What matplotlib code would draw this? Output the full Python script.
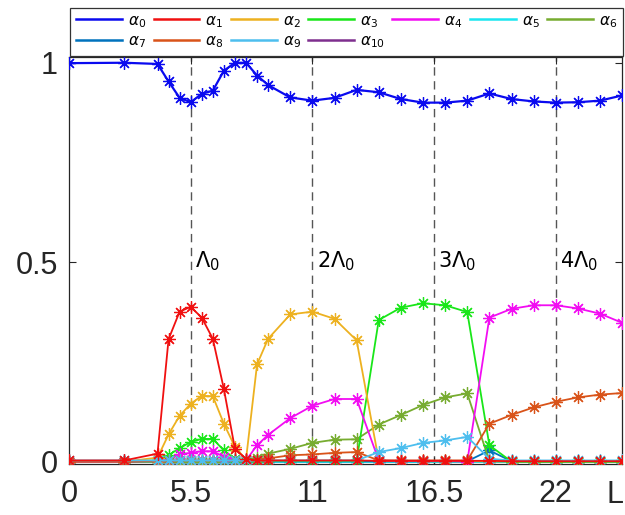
"""Occupation amplitudes alpha_n versus L, with Lambda_0 multiples marked."""

import matplotlib

matplotlib.use("Agg")
import matplotlib.pyplot as plt  # noqa: E402

plt.rcParams["font.family"] = ["Liberation Sans", "DejaVu Sans"]

# sample points along L
L = [0, 2.5, 4, 4.5, 5, 5.5, 6, 6.5, 7, 7.5, 8, 8.5, 9, 10, 11, 12, 13,
     14, 15, 16, 17, 18, 19, 20, 21, 22, 23, 24, 25]

a0 = [0.999, 1.0, 0.997, 0.953, 0.912, 0.901, 0.922, 0.930, 0.980, 1.0, 1.0,
      0.968, 0.944, 0.913, 0.905, 0.912, 0.932, 0.926, 0.909, 0.900, 0.900,
      0.905, 0.923, 0.909, 0.903, 0.900, 0.901, 0.905, 0.918]
a1 = [0.003, 0.003, 0.020, 0.307, 0.376, 0.388, 0.361, 0.308, 0.182, 0.032,
      0.007, 0.003, 0.003, 0.003, 0.003, 0.003, 0.003, 0.002, 0.002, 0.002,
      0.002, 0.002, 0.002, 0.001, 0.001, 0.001, 0.001, 0.001, 0.001]
a2 = [0.0, 0.0, 0.010, 0.068, 0.115, 0.145, 0.165, 0.164, 0.095, 0.037,
      0.005, 0.244, 0.308, 0.369, 0.376, 0.358, 0.304, 0.003, 0.002, 0.001,
      0.001, 0.001, 0.001, 0.001, 0.001, 0.001, 0.001, 0.001, 0.001]
a3 = [0.0, 0.0, 0.003, 0.016, 0.034, 0.049, 0.057, 0.057, 0.028, 0.007,
      0.002, 0.002, 0.002, 0.002, 0.002, 0.002, 0.002, 0.355, 0.386, 0.397,
      0.392, 0.375, 0.041, 0.0, 0.0, 0.0, 0.0, 0.0, 0.0]
a4 = [0.0, 0.0, 0.002, 0.005, 0.018, 0.022, 0.026, 0.026, 0.012, 0.005,
      0.003, 0.041, 0.067, 0.109, 0.140, 0.157, 0.157, 0.003, 0.002, 0.002,
      0.002, 0.0, 0.361, 0.383, 0.392, 0.392, 0.384, 0.371, 0.348]
a5 = [0.0] * 29
a6 = [0.0, 0.0, 0.0, 0.0, 0.0, 0.0, 0.0, 0.0, 0.001, 0.002, 0.003, 0.008,
      0.020, 0.032, 0.047, 0.055, 0.056, 0.093, 0.117, 0.142, 0.161, 0.171,
      0.001, 0.0, 0.0, 0.0, 0.0, 0.0, 0.0]
a7 = [0.001, 0.001, 0.001, 0.001, 0.001, 0.001, 0.001, 0.001, 0.001, 0.001,
      0.001, 0.001, 0.001, 0.001, 0.001, 0.001, 0.001, 0.001, 0.001, 0.001,
      0.001, 0.001, 0.028, 0.001, 0.001, 0.001, 0.001, 0.001, 0.001]
a8 = [0.0, 0.0, 0.001, 0.002, 0.003, 0.003, 0.003, 0.003, 0.003, 0.003,
      0.004, 0.005, 0.008, 0.016, 0.018, 0.022, 0.024, 0.003, 0.003, 0.003,
      0.003, 0.003, 0.095, 0.117, 0.136, 0.150, 0.161, 0.168, 0.172]
a9 = [0.003, 0.003, 0.003, 0.003, 0.003, 0.003, 0.003, 0.003, 0.003, 0.003,
      0.003, 0.003, 0.003, 0.003, 0.003, 0.003, 0.003, 0.024, 0.034, 0.047,
      0.053, 0.062, 0.007, 0.003, 0.003, 0.003, 0.003, 0.003, 0.003]
a10 = [0.0] * 29

series = [a0, a1, a2, a3, a4, a5, a6, a7, a8, a9, a10]
colors = ["#0a0aef", "#f01010", "#edb120", "#19e619", "#f20df2", "#1ae6f0",
          "#77ac30", "#0072bd", "#d95319", "#4dbeee", "#7e2f8e"]
labels = [rf"$\alpha_{{{n}}}$" for n in range(11)]
# stacking so the bottom markers look like the original
zorders = [11, 10, 5, 4, 6, 2, 3, 2.5, 7, 8, 1]

lambda_pos = [5.5, 11, 16.5, 22]
lambda_txt = [r"$\Lambda_0$", r"$2\Lambda_0$", r"$3\Lambda_0$", r"$4\Lambda_0$"]

fig = plt.figure(figsize=(6.25, 5.15), dpi=100)
ax = fig.add_axes([0.1104, 0.099, 0.885, 0.790])

for x in lambda_pos:
    ax.axvline(x, color="#555555", lw=1.0, ls=(0, (6, 4)), zorder=0.5)
for x, t in zip(lambda_pos, lambda_txt):
    ax.text(x + 0.2, 0.486, t, fontsize=15, va="baseline", ha="left")

handles = []
for ys, c, lab, z in zip(series, colors, labels, zorders):
    lw = 1.6 if lab == labels[0] else 1.3
    (h,) = ax.plot(L, ys, color=c, lw=lw, marker=(8, 2, 0), ms=9, mew=0.9,
                   label=lab, zorder=z)
    handles.append(h)

ax.set_xlim(0, 25)
ax.set_ylim(-0.006, 1.014)
ax.set_xticks([0, 5.5, 11, 16.5, 22], ["0", "5.5", "11", "16.5", "22"])
ax.set_yticks([0, 0.5, 1], ["0", "0.5", "1"])
ax.tick_params(direction="in", length=5, width=0.8, labelsize=22,
               top=True, right=True, colors="#262626")
ax.tick_params(axis="x", pad=11)
ax.tick_params(axis="y", pad=8)
for sp in ax.spines.values():
    sp.set_color("#262626")
    sp.set_linewidth(0.9)
ax.text(24.3, -0.076, "L", transform=ax.get_xaxis_transform(), fontsize=22,
        ha="left", va="center", color="#262626")

# legend fills column-wise; reorder so it reads row-wise like the original
order = [0, 7, 1, 8, 2, 9, 3, 10, 4, 5, 6]
leg = fig.legend(handles=[handles[i] for i in order],
                 labels=[labels[i] for i in order], loc="upper left",
                 bbox_to_anchor=(0.112, 0.985, 0.885, 0.0), mode="expand",
                 ncol=7, fontsize=11, handlelength=3.0, handletextpad=0.4,
                 columnspacing=0.6, labelspacing=0.3, borderaxespad=0.0,
                 fancybox=False, edgecolor="#333333", framealpha=1)
leg.get_frame().set_linewidth(0.9)
for lh in leg.get_lines():
    lh.set_marker("")
    lh.set_linewidth(1.8)

fig.savefig("out.png", dpi=100)
